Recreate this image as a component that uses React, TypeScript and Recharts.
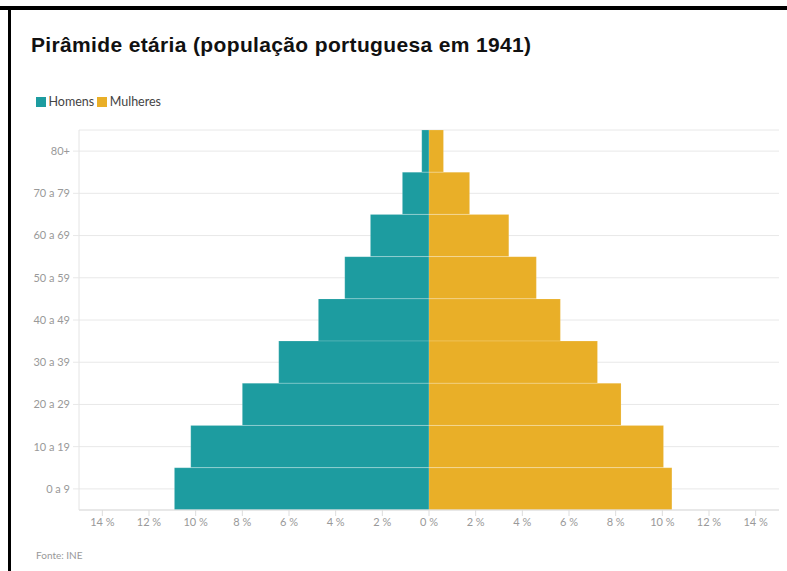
import { BarChart, Bar, XAxis, YAxis, CartesianGrid } from 'recharts'

// age groups, top to bottom
const ageGroups = ['80+', '70 a 79', '60 a 69', '50 a 59', '40 a 49', '30 a 39', '20 a 29', '10 a 19', '0 a 9']
// share of total population (%)
const homens = [0.31, 1.14, 2.51, 3.61, 4.74, 6.44, 8.0, 10.21, 10.91]
const mulheres = [0.62, 1.74, 3.42, 4.6, 5.63, 7.22, 8.23, 10.05, 10.41]
const xTicks = [-14, -12, -10, -8, -6, -4, -2, 0, 2, 4, 6, 8, 10, 12, 14]

const TEAL = '#1d9ca0'
const GOLD = '#e9af28'
const TICK_FONT = 'Lato, "Open Sans", sans-serif'

export default function App() {
  // men go to the left, so store them as negatives
  const chartData = ageGroups.map((age, i) => ({
    age,
    homens: -homens[i],
    mulheres: mulheres[i]
  }))

  return (
    <div
      style={{
        position: 'absolute',
        left: 0,
        top: 0,
        width: 787,
        height: 571,
        background: '#fff',
        overflow: 'hidden'
      }}
    >
      {/* screenshot frame */}
      <div style={{ position: 'absolute', left: 0, top: 6, width: 787, height: 4, background: '#000' }} />
      <div style={{ position: 'absolute', left: 8, top: 6, width: 3, height: 565, background: '#000' }} />

      <div
        style={{
          position: 'absolute',
          left: 31,
          top: 33,
          fontFamily: '"Liberation Sans", Arial, sans-serif',
          fontWeight: 'bold',
          fontSize: 21,
          letterSpacing: 0.35,
          color: '#111',
          whiteSpace: 'nowrap'
        }}
      >
        Pirâmide etária (população portuguesa em 1941)
      </div>

      <div
        style={{
          position: 'absolute',
          left: 36,
          top: 94,
          display: 'flex',
          alignItems: 'center',
          fontFamily: TICK_FONT,
          fontSize: 12.5,
          color: '#444'
        }}
      >
        <span style={{ width: 9.5, height: 10, background: TEAL, marginRight: 3 }} />
        <span style={{ marginRight: 3 }}>Homens</span>
        <span style={{ width: 9.5, height: 10, background: GOLD, marginRight: 3 }} />
        <span>Mulheres</span>
      </div>

      <div style={{ position: 'absolute', left: 0, top: 120 }}>
        <BarChart
          width={787}
          height={420}
          data={chartData}
          layout="vertical"
          stackOffset="sign"
          barCategoryGap={0}
          margin={{ top: 10, right: 8, left: 0, bottom: 0 }}
        >
          <CartesianGrid horizontal vertical={false} stroke="#e8e8e8" />
          <XAxis
            type="number"
            domain={[-15, 15]}
            ticks={xTicks}
            height={30}
            stroke="#ddd"
            tickLine={{ stroke: '#ddd' }}
            tick={{ fill: '#999', fontSize: 11, fontFamily: TICK_FONT }}
            tickFormatter={(v) => `${Math.abs(v)} %`}
          />
          <YAxis
            type="category"
            dataKey="age"
            width={79}
            stroke="#e4e4e4"
            tickLine={{ stroke: '#e8e8e8' }}
            tickMargin={3}
            tick={{ fill: '#999', fontSize: 11, fontFamily: TICK_FONT }}
          />
          <Bar
            dataKey="homens"
            stackId="pop"
            fill={TEAL}
            stroke="#fff"
            strokeOpacity={0.15}
            isAnimationActive={false}
          />
          <Bar
            dataKey="mulheres"
            stackId="pop"
            fill={GOLD}
            stroke="#fff"
            strokeOpacity={0.15}
            isAnimationActive={false}
          />
        </BarChart>
      </div>

      <div
        style={{
          position: 'absolute',
          left: 36,
          top: 549,
          fontFamily: TICK_FONT,
          fontSize: 10,
          color: '#999'
        }}
      >
        Fonte: INE
      </div>
    </div>
  )
}
